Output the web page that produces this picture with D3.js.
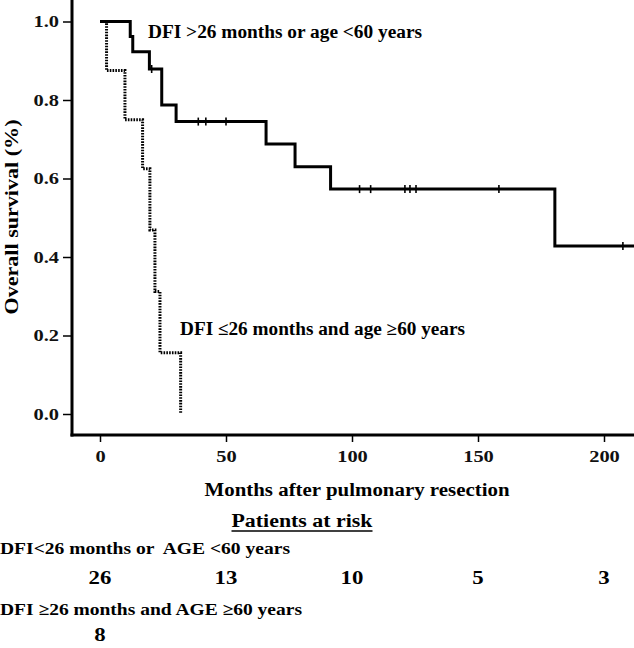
<!DOCTYPE html>
<html><head><meta charset="utf-8">
<script src="https://cdn.jsdelivr.net/npm/d3@7"></script>
<style>
html,body{margin:0;padding:0;background:#fff;}
svg{display:block;font-family:"Liberation Serif","Times New Roman",serif;font-weight:bold;}
</style></head>
<body>
<svg id="c" width="634" height="648"></svg>
<script>
// Group 1: DFI >26 months or age <60 years (solid)
const g1Times = [0, 12, 13, 19.6, 24.5, 30.2, 65.9, 77.4, 91.5, 180.5, 212];
const g1Surv  = [1.0, 0.962, 0.923, 0.879, 0.787, 0.745, 0.688, 0.630, 0.573, 0.428, 0.428];
const g1CensorTimes = [20.5, 39, 42, 50, 103, 107.4, 121, 123, 125.4, 158.3, 207.5];
const g1CensorSurv  = [0.879, 0.745, 0.745, 0.745, 0.573, 0.573, 0.573, 0.573, 0.573, 0.573, 0.428];
// Group 2: DFI ≤26 months and age ≥60 years (dotted)
const g2Times = [0, 2.6, 9.9, 16.9, 19.8, 21.8, 23.8, 32];
const g2Surv  = [1.0, 0.875, 0.75, 0.625, 0.469, 0.312, 0.156, 0.0];
// axes
const xTicks = [0, 50, 100, 150, 200];
const yTicks = [0.0, 0.2, 0.4, 0.6, 0.8, 1.0];
// patients at risk
const riskTimes = [0, 50, 100, 150, 200];
const riskG1 = [26, 13, 10, 5, 3];
const riskG2 = [8];
const riskLabels = ["DFI<26 months or  AGE <60 years", "DFI \u226526 months and AGE \u226560 years"];
const curveLabels = ["DFI >26 months or age <60 years", "DFI \u226426 months and age \u226560 years"];

const svg = d3.select("#c");
const x = d3.scaleLinear().domain([0, 200]).range([100, 604]);
const y = d3.scaleLinear().domain([0, 1]).range([414, 21.5]);
const axisX0 = 72, axisY0 = 435;
const STRETCH = 1.2;

function stretch(sel, factor) {
  sel.each(function() {
    const w = this.getComputedTextLength();
    d3.select(this).attr("textLength", w * factor).attr("lengthAdjust", "spacingAndGlyphs");
  });
}
function fitTo(sel, width) {
  sel.attr("textLength", width).attr("lengthAdjust", "spacingAndGlyphs");
}

// Y axis
const yAxis = svg.append("g").attr("transform", `translate(${axisX0},0)`)
  .call(d3.axisLeft(y).tickValues(yTicks).tickFormat(d3.format(".1f")).tickSize(9).tickPadding(4));
yAxis.select(".domain").remove();
yAxis.selectAll(".tick line").attr("stroke", "#000").attr("stroke-width", 1.5);
yAxis.selectAll(".tick text").attr("font-size", 17).attr("font-family", "Liberation Serif").attr("font-weight", "bold").attr("fill", "#111")
  .call(stretch, STRETCH);
svg.append("line").attr("x1", axisX0).attr("x2", axisX0).attr("y1", 0).attr("y2", axisY0 + 1.5)
  .attr("stroke", "#000").attr("stroke-width", 3);

// X axis
const xAxis = svg.append("g").attr("transform", `translate(0,${axisY0})`)
  .call(d3.axisBottom(x).tickValues(xTicks).tickFormat(d3.format("d")).tickSize(7).tickPadding(8));
xAxis.select(".domain").remove();
xAxis.selectAll(".tick line").attr("stroke", "#000").attr("stroke-width", 1.5);
xAxis.selectAll(".tick text").attr("font-size", 17).attr("font-family", "Liberation Serif").attr("font-weight", "bold").attr("fill", "#111")
  .call(stretch, STRETCH);
svg.append("line").attr("x1", axisX0 - 1.5).attr("x2", 634).attr("y1", axisY0).attr("y2", axisY0)
  .attr("stroke", "#000").attr("stroke-width", 3);

// Axis titles
svg.append("text").attr("x", 357).attr("y", 496).attr("text-anchor", "middle")
  .attr("font-size", 18).text("Months after pulmonary resection").call(fitTo, 305);
svg.append("text").attr("transform", "translate(18,217) rotate(-90)").attr("text-anchor", "middle")
  .attr("font-size", 18).text("Overall survival (%)").call(fitTo, 195);

// Curves
const line = d3.line().x(d => x(d[0])).y(d => y(d[1])).curve(d3.curveStepAfter);
svg.append("path").datum(g2Times.map((t, i) => [t, g2Surv[i]]))
  .attr("d", line).attr("fill", "none").attr("stroke", "#000").attr("stroke-width", 3)
  .attr("stroke-dasharray", "1.6,1.2");
svg.append("path").datum(g1Times.map((t, i) => [t, g1Surv[i]]))
  .attr("d", line).attr("fill", "none").attr("stroke", "#000").attr("stroke-width", 3)
  .attr("stroke-linejoin", "miter");
svg.append("g").selectAll("line").data(g1CensorTimes).join("line")
  .attr("x1", d => x(d)).attr("x2", d => x(d))
  .attr("y1", (d, i) => y(g1CensorSurv[i]) - 4).attr("y2", (d, i) => y(g1CensorSurv[i]) + 4)
  .attr("stroke", "#000").attr("stroke-width", 1.6);

// Curve labels
svg.append("text").attr("x", 148).attr("y", 38).attr("font-size", 18).text(curveLabels[0]).call(fitTo, 274);
svg.append("text").attr("x", 180).attr("y", 335).attr("font-size", 18).text(curveLabels[1]).call(fitTo, 285);

// Patients at risk
const pr = svg.append("text").attr("x", 302).attr("y", 527).attr("text-anchor", "middle")
  .attr("font-size", 18).text("Patients at risk").call(fitTo, 141);
svg.append("line").attr("x1", 302 - 70.5).attr("x2", 302 + 70.5).attr("y1", 531).attr("y2", 531)
  .attr("stroke", "#000").attr("stroke-width", 1.3);
svg.append("text").attr("x", 0).attr("y", 554).attr("font-size", 17).style("white-space", "pre")
  .text(riskLabels[0]).call(fitTo, 290);
svg.append("g").selectAll("text").data(riskG1).join("text")
  .attr("x", (d, i) => x(riskTimes[i])).attr("y", 584).attr("text-anchor", "middle")
  .attr("font-size", 19).text(d => d).call(stretch, STRETCH);
svg.append("text").attr("x", 0).attr("y", 615).attr("font-size", 17).text(riskLabels[1]).call(fitTo, 302);
svg.append("g").selectAll("text").data(riskG2).join("text")
  .attr("x", (d, i) => x(riskTimes[i])).attr("y", 641).attr("text-anchor", "middle")
  .attr("font-size", 19).text(d => d).call(stretch, STRETCH);
</script>
</body></html>
